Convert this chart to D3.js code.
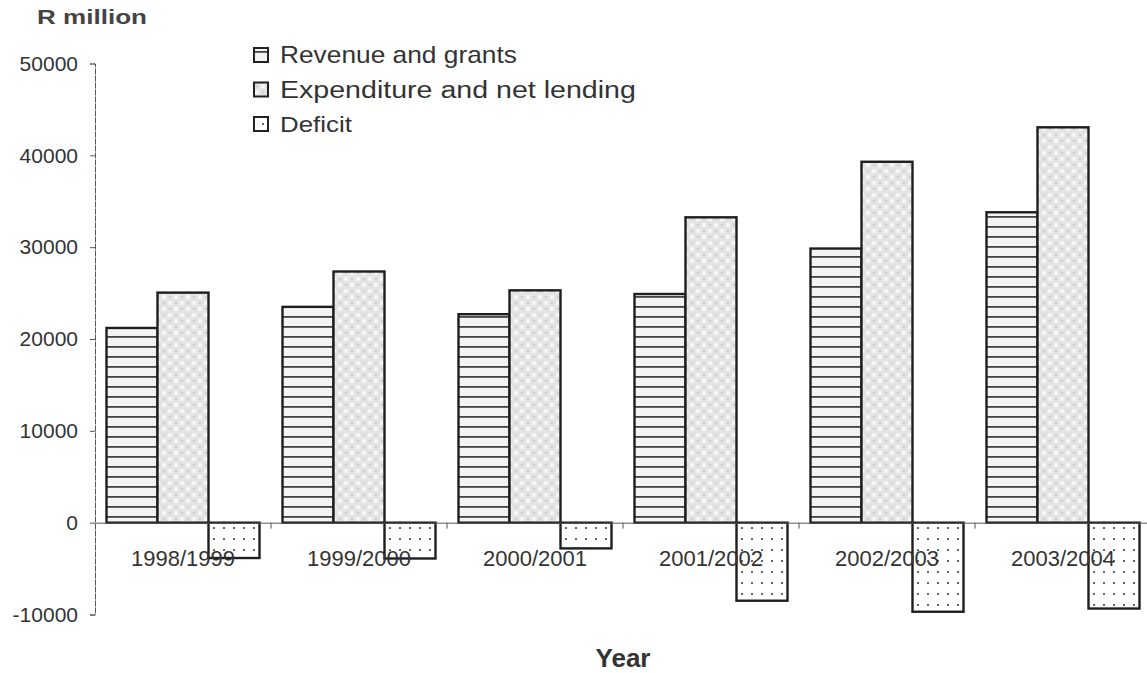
<!DOCTYPE html>
<html><head><meta charset="utf-8">
<script src="https://cdn.jsdelivr.net/npm/d3@7"></script>
<style>
html,body{margin:0;padding:0;background:#fff;}
svg{display:block;font-family:"Liberation Sans",Arial,sans-serif;}
</style></head>
<body>
<svg id="chart" width="1147" height="673"></svg>
<script>
const categories = ["1998/1999","1999/2000","2000/2001","2001/2002","2002/2003","2003/2004"];
const seriesNames = ["Revenue and grants","Expenditure and net lending","Deficit"];
const revenue = [21200, 23500, 22700, 24900, 29850, 33800];
const expenditure = [25050, 27350, 25300, 33250, 39300, 43050];
const deficit = [-3850, -3900, -2800, -8500, -9700, -9350];
const yTicks = [-10000, 0, 10000, 20000, 30000, 40000, 50000];

const seriesValues = [revenue, expenditure, deficit];
const svg = d3.select("#chart");
const defs = svg.append("defs");

// patterns
const pRev = defs.append("pattern").attr("id","pRev").attr("patternUnits","userSpaceOnUse")
  .attr("width",10).attr("height",10).attr("y",2);
pRev.append("rect").attr("width",10).attr("height",10).attr("fill","#f3f3f3");
pRev.append("rect").attr("y",4).attr("width",10).attr("height",1.8).attr("fill","#444");

const pExp = defs.append("pattern").attr("id","pExp").attr("patternUnits","userSpaceOnUse")
  .attr("width",12).attr("height",12);
pExp.append("rect").attr("width",12).attr("height",12).attr("fill","#e4e4e4");
pExp.append("circle").attr("cx",3).attr("cy",3).attr("r",2.3).attr("fill","#f6f6f6");
pExp.append("circle").attr("cx",9).attr("cy",9).attr("r",2.3).attr("fill","#f6f6f6");
pExp.append("circle").attr("cx",9).attr("cy",3).attr("r",1.3).attr("fill","#cfcfcf");
pExp.append("circle").attr("cx",3).attr("cy",9).attr("r",1.3).attr("fill","#cfcfcf");

const pDef = defs.append("pattern").attr("id","pDef").attr("patternUnits","userSpaceOnUse")
  .attr("width",10).attr("height",11).attr("x",4).attr("y",6);
pDef.append("rect").attr("width",10).attr("height",11).attr("fill","#ffffff");
pDef.append("circle").attr("cx",5).attr("cy",5).attr("r",1).attr("fill","#333");

const fills = ["url(#pRev)","url(#pExp)","url(#pDef)"];

const x0 = d3.scaleBand().domain(categories).range([95, 1151]).padding(0);
const x1 = d3.scaleBand().domain(d3.range(3)).range([11.5, x0.bandwidth()-11.5]).padding(0);
const y = d3.scaleLinear().domain([-10000, 50000]).range([614.5, 63.5]);

// bars
const groups = svg.append("g").selectAll("g").data(categories).join("g")
  .attr("transform", d => `translate(${x0(d)},0)`);
groups.selectAll("rect").data((d,i) => seriesValues.map((s,k) => ({k, v: s[i]}))).join("rect")
  .attr("x", d => x1(d.k))
  .attr("width", x1.bandwidth())
  .attr("y", d => y(Math.max(0, d.v)))
  .attr("height", d => Math.abs(y(d.v) - y(0)))
  .attr("fill", d => fills[d.k])
  .attr("stroke", "#1e1e1e")
  .attr("stroke-width", 2.4);

// y axis
const yAxis = d3.axisLeft(y).tickValues(yTicks).tickSize(5).tickFormat(d => String(d));
const ya = svg.append("g").attr("transform","translate(95,0)").call(yAxis);
ya.select(".domain").attr("stroke","#555").attr("stroke-dasharray","6,1");
ya.selectAll(".tick line").attr("stroke","#555");
ya.selectAll(".tick text").attr("font-size",21).attr("fill","#333").attr("x",-17)
  .attr("font-family","'Liberation Sans',Arial,sans-serif");

// x axis
const xAxis = d3.axisBottom(x0).tickSize(0).tickSizeOuter(0);
const xa = svg.append("g").attr("transform",`translate(0,${y(0)})`).call(xAxis);
xa.select(".domain").attr("stroke","#555");
xa.selectAll(".tick text").attr("font-size",22).attr("fill","#333").attr("dy","0").attr("y",43)
  .attr("font-family","'Liberation Sans',Arial,sans-serif");
// category separator ticks
svg.append("g").selectAll("line").data(categories.slice(1)).join("line")
  .attr("x1", d => x0(d)).attr("x2", d => x0(d))
  .attr("y1", y(0)).attr("y2", y(0)+6).attr("stroke","#555");

// helper: stretch text horizontally to a target width
function fitWidth(sel, target) {
  sel.each(function(d,i){
    const t = typeof target === "function" ? target(d,i) : target;
    const w = this.getComputedTextLength();
    const x = +this.getAttribute("x") || 0;
    const s = t / w;
    this.setAttribute("transform", `translate(${x},0) scale(${s},1) translate(${-x},0)`);
  });
}

// titles
const rt = svg.append("text").attr("x",37).attr("y",24).attr("font-size",21).attr("font-weight","bold")
  .attr("fill","#444").text("R million");
fitWidth(rt, 110);
svg.append("text").attr("x",623).attr("y",667).attr("text-anchor","middle").attr("font-size",26)
  .attr("font-weight","bold").attr("fill","#333").text("Year");

// legend
const legWidths = [237, 356, 72];
const leg = svg.append("g").selectAll("g").data(seriesNames).join("g")
  .attr("transform",(d,i)=>`translate(254,${55 + i*34.5})`);
leg.append("rect").attr("x",0).attr("y",-7).attr("width",14).attr("height",14)
  .attr("fill",(d,i)=>fills[i]).attr("stroke","#222").attr("stroke-width",2);
const lt = leg.append("text").attr("x",26).attr("y",0).attr("dy","0.36em").attr("font-size",23)
  .attr("fill","#333").text(d=>d);
fitWidth(lt, (d,i)=>legWidths[i]);
</script>
</body></html>
